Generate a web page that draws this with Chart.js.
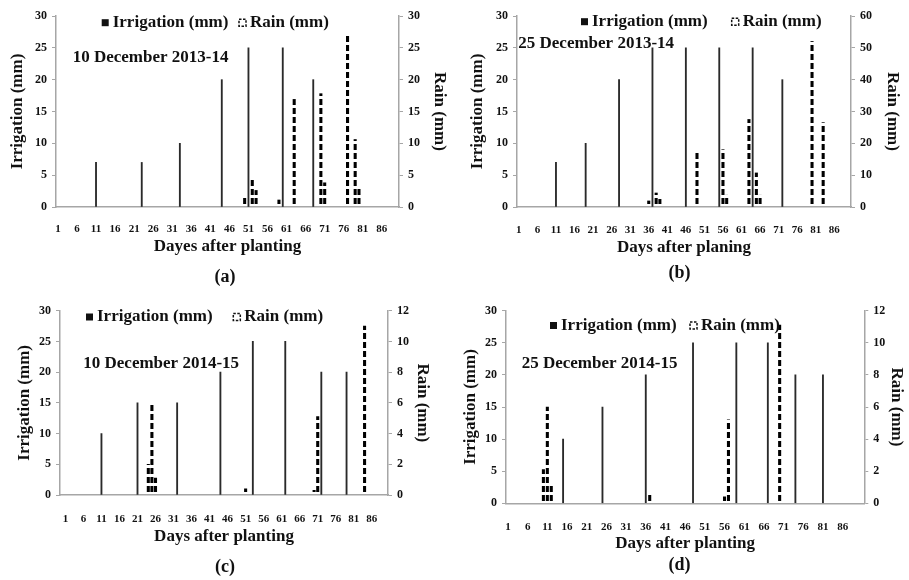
<!DOCTYPE html>
<html>
<head>
<meta charset="utf-8">
<script src="https://cdn.jsdelivr.net/npm/chart.js@4.4.1/dist/chart.umd.min.js"></script>
<style>
  body { margin: 0; background: #fff; }
  #wrap { position: relative; width: 909px; height: 580px; }
  canvas { position: absolute; }
</style>
</head>
<body>
<div id="wrap">
  <canvas id="panelA" width="450" height="288" style="left:0;top:0"></canvas>
  <canvas id="panelB" width="459" height="288" style="left:450px;top:0"></canvas>
  <canvas id="panelC" width="450" height="292" style="left:0;top:288px"></canvas>
  <canvas id="panelD" width="459" height="292" style="left:450px;top:288px"></canvas>
</div>
<script>
// x tick labels shown under the day axis
const xTickLabels = ["1", "6", "11", "16", "21", "26", "31", "36", "41", "46", "51", "56", "61", "66", "71", "76", "81", "86"]

// [day, mm] pairs
const irrigationA = [[11, 7], [23, 7], [33, 10], [44, 20], [51, 25], [60, 25], [68, 20]]
const rainA = [[12, 0.3], [50, 1.5], [52, 4.3], [53, 2.6], [59, 1.1], [63, 16.9], [70, 17.8], [71, 3.8], [77, 27], [79, 10.6], [80, 3.2]]

const irrigationB = [[11, 7], [19, 10], [28, 20], [37, 25], [46, 25], [55, 25], [64, 25], [72, 20]]
const rainB = [[36, 1.9], [38, 4.4], [39, 2.4], [49, 17], [56, 18], [57, 3.7], [63, 27.5], [65, 10.7], [66, 3.7], [80, 52], [81, 0.5], [83, 26.5], [84, 0.5]]

const irrigationC = [[11, 10], [21, 15], [32, 15], [44, 20], [53, 25], [62, 25], [72, 20], [79, 20]]
const rainC = [[24, 2], [25, 6], [26, 1.1], [51, 0.4], [70, 0.3], [71, 5.1], [84, 11]]

const irrigationD = [[15, 10], [25, 15], [36, 20], [48, 25], [59, 25], [67, 25], [74, 20], [81, 20]]
const rainD = [[10, 2.1], [11, 6], [12, 1.1], [37, 0.5], [56, 0.4], [57, 5.2], [70, 11.1]]

const FONT = '"Liberation Serif", "Times New Roman", serif'

function dayLabels(n, lead) {
    const labels = []
    for (let i = 0; i < lead; i++) labels.push("")
    for (let d = 1; d <= n; d++) labels.push(String(d))
    return labels
}

function toSeries(pairs, length, lead) {
    const arr = new Array(length).fill(null)
    pairs.forEach(([day, mm]) => { arr[day - 1 + lead] = mm })
    return arr
}

function dashPattern(ctx) {
    const c = document.createElement("canvas")
    c.width = 4
    c.height = 9
    const g = c.getContext("2d")
    g.fillStyle = "#000"
    g.fillRect(0, 0, 4, 6)
    return ctx.createPattern(c, "repeat")
}

// legend + season note drawn inside the plot
const panelText = {
    id: "panelText",
    afterDraw(chart, args, opts) {
        const ctx = chart.ctx
        const ds = chart.data.datasets
        ctx.save()
        ctx.font = "bold 17px " + FONT
        ctx.fillStyle = "#111"
        ctx.textBaseline = "middle"
        ctx.fillRect(opts.x1, opts.y - 3.5, 7, 7)
        ctx.fillText(ds[0].label, opts.x1 + 11, opts.y)
        ctx.strokeStyle = "#111"
        ctx.lineWidth = 1.5
        ctx.setLineDash([2.5, 1.5])
        ctx.fillStyle = "#fff"
        ctx.fillRect(opts.x2, opts.y - 3.5, 7, 7)
        ctx.strokeRect(opts.x2, opts.y - 3.5, 7, 7)
        ctx.setLineDash([])
        ctx.fillStyle = "#111"
        ctx.fillText(ds[1].label, opts.x2 + 11, opts.y)
        ctx.textBaseline = "alphabetic"
        ctx.fillText(opts.note, opts.noteX, opts.noteY)
        ctx.restore()
    }
}

function makePanel(p) {
    const canvas = document.getElementById(p.id)
    const ctx = canvas.getContext("2d")
    const labels = dayLabels(p.days, p.lead)
    const n = labels.length

    const tickLH = 11 * 1.2
    const titleLH = 17 * 1.2
    const capLH = 18 * 1.2
    const xHeight = p.xTitleY + titleLH / 2 - p.bottom
    const capTop = Math.max(0, p.captionY - (p.bottom + xHeight) - capLH / 2)
    const capBottom = Math.max(0, canvas.height - (p.bottom + xHeight + capTop + capLH))

    return new Chart(ctx, {
        type: "bar",
        data: {
            labels: labels,
            datasets: [
                {
                    label: "Irrigation (mm)",
                    data: toSeries(p.irrigation, n, p.lead),
                    backgroundColor: "#2a2a2a",
                    barThickness: 1.2,
                    grouped: false,
                    yAxisID: "y",
                },
                {
                    label: "Rain (mm)",
                    data: toSeries(p.rain, n, p.lead),
                    backgroundColor: dashPattern(ctx),
                    barThickness: 2.4,
                    grouped: false,
                    yAxisID: "y1",
                },
            ],
        },
        options: {
            responsive: false,
            animation: false,
            devicePixelRatio: 1,
            layout: { padding: { top: p.top, bottom: capBottom, left: 0, right: 0 } },
            plugins: {
                legend: { display: false },
                tooltip: { enabled: false },
                title: {
                    display: true,
                    position: "bottom",
                    text: p.caption,
                    color: "#111",
                    font: { family: FONT, size: 18, weight: "bold" },
                    padding: { top: capTop, bottom: 0 },
                },
                panelText: p.text,
            },
            scales: {
                x: {
                    grid: { display: false },
                    border: { display: true, color: "#a6a6a6", width: 1.5 },
                    ticks: {
                        autoSkip: false,
                        maxRotation: 0,
                        padding: p.xTickY - p.bottom - tickLH / 2,
                        color: "#111",
                        font: { family: FONT, size: 11, weight: "bold" },
                        callback: function (value) {
                            const lab = this.getLabelForValue(value)
                            return xTickLabels.includes(lab) ? lab : ""
                        },
                    },
                    title: {
                        display: true,
                        text: p.xTitle,
                        color: "#111",
                        font: { family: FONT, size: 17, weight: "bold" },
                        padding: { top: 0, bottom: 0 },
                    },
                    afterFit: (scale) => { scale.height = xHeight },
                },
                y: {
                    position: "left",
                    min: 0,
                    max: 30,
                    ticks: {
                        stepSize: 5,
                        padding: 5,
                        color: "#111",
                        font: { family: FONT, size: 12, weight: "bold" },
                    },
                    grid: { drawOnChartArea: false, tickLength: 4, color: "#a6a6a6" },
                    border: { color: "#a6a6a6", width: 1.5 },
                    title: {
                        display: true,
                        text: "Irrigation (mm)",
                        color: "#111",
                        font: { family: FONT, size: 17, weight: "bold" },
                        padding: { top: p.yTitlePadL, bottom: 0 },
                    },
                    afterFit: (scale) => { scale.width = p.leftW },
                },
                y1: {
                    position: "right",
                    min: 0,
                    max: p.rainMax,
                    ticks: {
                        stepSize: p.rainStep,
                        padding: 5,
                        color: "#111",
                        font: { family: FONT, size: 12, weight: "bold" },
                    },
                    grid: { drawOnChartArea: false, tickLength: 4, color: "#a6a6a6" },
                    border: { color: "#a6a6a6", width: 1.5 },
                    title: {
                        display: true,
                        text: "Rain (mm)",
                        color: "#111",
                        font: { family: FONT, size: 17, weight: "bold" },
                        padding: { top: p.yTitlePadR, bottom: 0 },
                    },
                    afterFit: (scale) => { scale.width = p.rightW },
                },
            },
        },
        plugins: [panelText],
    })
}

makePanel({
    id: "panelA", days: 90, lead: 0,
    irrigation: irrigationA, rain: rainA, rainMax: 30, rainStep: 5,
    leftW: 56, rightW: 51, top: 16, bottom: 207,
    xTickY: 221, xTitleY: 247, captionY: 277, yTitlePadL: 7, yTitlePadR: 0,
    xTitle: "Dayes after planting", caption: "(a)",
    text: { x1: 101.7, x2: 239, y: 22.7, note: "10 December 2013-14", noteX: 72.7, noteY: 61.7 },
})

makePanel({
    id: "panelB", days: 90, lead: 0,
    irrigation: irrigationB, rain: rainB, rainMax: 60, rainStep: 10,
    leftW: 67, rightW: 58, top: 16, bottom: 207,
    xTickY: 222, xTitleY: 248, captionY: 273, yTitlePadL: 17, yTitlePadR: 6,
    xTitle: "Days after planing", caption: "(b)",
    text: { x1: 131, x2: 281.7, y: 21.7, note: "25 December 2013-14", noteX: 68.3, noteY: 48.3 },
})

makePanel({
    id: "panelC", days: 90, lead: 1,
    irrigation: irrigationC, rain: rainC, rainMax: 12, rainStep: 2,
    leftW: 60, rightW: 62, top: 22.7, bottom: 207,
    xTickY: 223, xTitleY: 249, captionY: 279, yTitlePadL: 14, yTitlePadR: 17,
    xTitle: "Days after planting", caption: "(c)",
    text: { x1: 86, x2: 233.3, y: 29, note: "10 December 2014-15", noteX: 83.3, noteY: 80.3 },
})

makePanel({
    id: "panelD", days: 91, lead: 0,
    irrigation: irrigationD, rain: rainD, rainMax: 12, rainStep: 2,
    leftW: 56, rightW: 44.7, top: 22.7, bottom: 215.3,
    xTickY: 231, xTitleY: 256, captionY: 277, yTitlePadL: 10, yTitlePadR: 2,
    xTitle: "Days after planting", caption: "(d)",
    text: { x1: 100, x2: 240, y: 37.5, note: "25 December 2014-15", noteX: 71.7, noteY: 80.3 },
})
</script>
</body>
</html>
